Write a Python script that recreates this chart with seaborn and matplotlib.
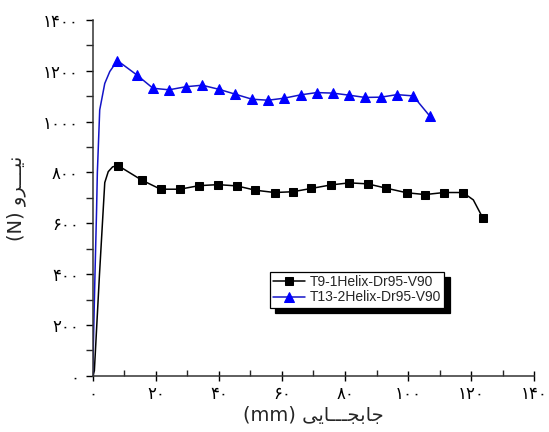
import matplotlib
matplotlib.use("Agg")
import matplotlib.pyplot as plt
from matplotlib.ticker import FixedLocator, FixedFormatter, MultipleLocator
import numpy as np
import pandas as pd
import seaborn as sns

# ---- data ----
# T9 series: initial rise (no markers) then marked points
t9_rise_x = [0.0, 0.5, 2.1, 3.8, 4.9, 6.3]
t9_rise_y = [0, 20, 393, 760, 803, 822]
t9_mk_x = [8.0, 15.5, 21.5, 27.6, 33.7, 39.7, 45.7, 51.6, 57.7, 63.4,
           69.3, 75.6, 81.4, 87.2, 93.1, 99.6, 105.4, 111.5, 117.4, 123.7]
t9_mk_y = [827, 770, 734, 734, 748, 752, 747, 730, 721, 724,
           737, 751, 759, 755, 738, 720, 713, 721, 721, 621]
t9_bend_x = [120.7]
t9_bend_y = [692]

# T13 series
t13_rise_x = [0.0, 0.2, 0.7, 1.2, 1.45, 2.2, 3.8, 5.4]
t13_rise_y = [0, 130, 400, 650, 800, 1046, 1150, 1197]
t13_mk_x = [7.8, 13.9, 19.1, 24.2, 29.5, 34.7, 40.0, 45.1, 50.5, 55.6,
            60.7, 65.9, 71.0, 76.1, 81.2, 86.3, 91.4, 96.5, 101.6, 106.8]
t13_mk_y = [1240, 1184, 1131, 1125, 1137, 1143, 1127, 1108, 1088, 1084,
            1092, 1105, 1114, 1112, 1104, 1095, 1096, 1106, 1101, 1023]

labels = ["T9-1Helix-Dr95-V90", "T13-2Helix-Dr95-V90"]

x_ticks = [0, 20, 40, 60, 80, 100, 120, 140]
x_tick_labels = ["۰", "۲۰", "۴۰", "۶۰", "۸۰", "۱۰۰", "۱۲۰", "۱۴۰"]
y_ticks = [0, 200, 400, 600, 800, 1000, 1200, 1400]
y_tick_labels = ["۰", "۲۰۰", "۴۰۰", "۶۰۰", "۸۰۰", "۱۰۰۰", "۱۲۰۰", "۱۴۰۰"]

# Persian axis titles, shaped (presentation forms) in visual order for LTR rendering
x_title = "(mm) " + "\uFBFD\uFBFE\uFE8E\u0640\u0640\u0640\uFEA0\uFE91\uFE8E\uFE9F"   # جابجـــایی (mm)
y_title = "(N) " + "\uFEED\uFEAE\u0640\u0640\u0640\uFBFF\uFEE7"                      # نیـــرو (N)

# ---- build series ----
t9_x = t9_rise_x + t9_mk_x[:-1] + t9_bend_x + t9_mk_x[-1:]
t9_y = t9_rise_y + t9_mk_y[:-1] + t9_bend_y + t9_mk_y[-1:]
n0 = len(t9_rise_x)
t9_every = list(range(n0, n0 + len(t9_mk_x) - 1)) + [len(t9_x) - 1]

t13_x = t13_rise_x + t13_mk_x
t13_y = t13_rise_y + t13_mk_y
m0 = len(t13_rise_x)
t13_every = list(range(m0, len(t13_x)))

df9 = pd.DataFrame({"x": t9_x, "y": t9_y})
df13 = pd.DataFrame({"x": t13_x, "y": t13_y})

sns.set_style("ticks")
plt.rcParams["font.family"] = ["DejaVu Sans"]

fig = plt.figure(figsize=(5.49, 4.32), dpi=100)
ax = fig.add_axes([0.169, 0.130, 0.804, 0.824])

sns.lineplot(data=df9, x="x", y="y", ax=ax, sort=False, estimator=None,
             color="black", lw=1.1, marker="s", markersize=6,
             markevery=t9_every, markeredgecolor="black", markerfacecolor="black",
             label=labels[0])
sns.lineplot(data=df13, x="x", y="y", ax=ax, sort=False, estimator=None,
             color="#1414c8", lw=1.1, marker="^", markersize=7.5,
             markevery=t13_every, markeredgecolor="#0000ff", markerfacecolor="#0000ff",
             label=labels[1])

ax.set_xlim(0, 140)
ax.set_ylim(0, 1400)
ax.xaxis.set_major_locator(FixedLocator(x_ticks))
ax.xaxis.set_major_formatter(FixedFormatter(x_tick_labels))
ax.yaxis.set_major_locator(FixedLocator(y_ticks))
ax.yaxis.set_major_formatter(FixedFormatter(y_tick_labels))
ax.xaxis.set_minor_locator(MultipleLocator(10))
ax.yaxis.set_minor_locator(MultipleLocator(100))

for s in ["top", "right"]:
    ax.spines[s].set_visible(False)
for s in ["left", "bottom"]:
    ax.spines[s].set_linewidth(1.1)
    ax.spines[s].set_color("#333333")

ax.tick_params(axis="x", which="major", direction="inout", length=7, width=1.0,
               labelsize=12, pad=3, colors="black")
ax.tick_params(axis="x", which="minor", direction="in", length=4, width=1.0)
ax.tick_params(axis="y", which="major", direction="out", length=5, width=1.0,
               labelsize=12, pad=5, colors="black")
ax.tick_params(axis="y", which="minor", direction="out", length=5, width=1.0)

ax.set_xlabel(x_title, fontsize=14, labelpad=2)
ax.set_ylabel(y_title, fontsize=14, labelpad=12)

leg = ax.legend(loc="upper left", bbox_to_anchor=(0.401, 0.293), frameon=True,
                fancybox=False, edgecolor="black", framealpha=1,
                prop={"family": "Liberation Sans", "size": 10},
                handlelength=2.3, handletextpad=0.3, labelspacing=0.1,
                borderpad=0.25, borderaxespad=0,
                shadow={"ox": 4, "oy": -4, "color": "black", "alpha": 1})
leg.get_frame().set_linewidth(0.9)

fig.savefig("out.png", dpi=100)
